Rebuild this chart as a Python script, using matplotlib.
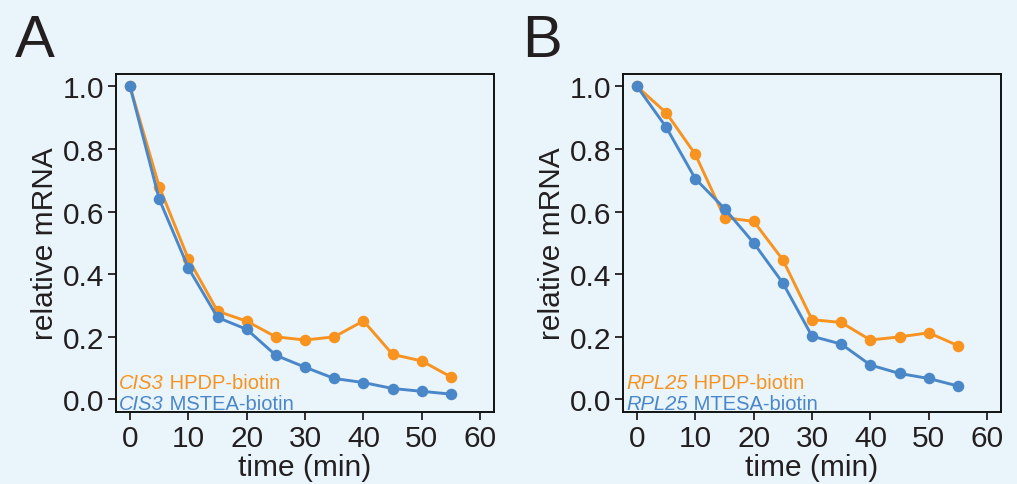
import matplotlib
matplotlib.use("Agg")
import matplotlib.pyplot as plt

plt.rcParams['font.family'] = ['Liberation Sans', 'DejaVu Sans']

time_min = [0, 5, 10, 15, 20, 25, 30, 35, 40, 45, 50, 55]

cis3_hpdp = [1.0, 0.680, 0.449, 0.282, 0.250, 0.200, 0.190, 0.200, 0.251, 0.144, 0.123, 0.072]
cis3_mstea = [1.0, 0.640, 0.420, 0.262, 0.224, 0.141, 0.103, 0.067, 0.054, 0.035, 0.026, 0.017]

rpl25_hpdp = [1.0, 0.916, 0.783, 0.581, 0.569, 0.446, 0.255, 0.246, 0.190, 0.200, 0.213, 0.172]
rpl25_mtesa = [1.0, 0.870, 0.705, 0.610, 0.500, 0.372, 0.202, 0.177, 0.110, 0.083, 0.067, 0.043]

x_ticks = [0, 10, 20, 30, 40, 50, 60]
y_ticks = [0.0, 0.2, 0.4, 0.6, 0.8, 1.0]

ORANGE = '#f7931e'
BLUE = '#4a87c9'
BG = '#eaf4fb'
INK = '#231f20'

fig = plt.figure(figsize=(10.17, 4.85), dpi=100, facecolor=BG)

panels = [
    ("A", 0.1141, "CIS3", cis3_hpdp, " HPDP-biotin", cis3_mstea, " MSTEA-biotin", (15, 57)),
    ("B", 0.6126, "RPL25", rpl25_hpdp, " HPDP-biotin", rpl25_mtesa, " MTESA-biotin", (522, 57)),
]

for letter, left, gene, orange_vals, orange_lbl, blue_vals, blue_lbl, letter_pos in panels:
    ax = fig.add_axes([left, 0.1485, 0.3712, 0.6969])
    ax.set_facecolor(BG)
    ax.plot(time_min, orange_vals, color=ORANGE, lw=2.1, marker='o', ms=8.3,
            markeredgewidth=0, zorder=3)
    ax.plot(time_min, blue_vals, color=BLUE, lw=2.1, marker='o', ms=8.3,
            markeredgewidth=0, zorder=4)
    ax.set_xlim(-2.4, 62.3)
    ax.set_ylim(-0.04, 1.04)
    ax.set_xticks(x_ticks)
    ax.set_yticks(y_ticks)
    ax.set_yticklabels([f"{v:.1f}" for v in y_ticks])
    ax.tick_params(direction='out', length=6, width=1.3, labelsize=21.5,
                   pad=2.5, colors=INK)
    for s in ax.spines.values():
        s.set_linewidth(1.4)
        s.set_color('#111111')
    ax.set_xlabel("time (min)", fontsize=21.5, labelpad=1, color=INK)
    ax.set_ylabel("relative mRNA", fontsize=21.5, labelpad=2.5, color=INK)

    # two-line legend: italic gene name followed by the label in upright text
    for yfrac, color, tail in [(0.058, ORANGE, orange_lbl), (-0.002, BLUE, blue_lbl)]:
        t1 = ax.text(0.008, yfrac, gene, transform=ax.transAxes, fontsize=14.5,
                     style='italic', color=color, ha='left', va='bottom')
        ax.annotate(tail, xy=(1, 0), xycoords=t1, fontsize=14.5, color=color,
                    ha='left', va='bottom')

    fig.text(letter_pos[0] / 1017, 1 - letter_pos[1] / 485, letter,
             fontsize=43, color=INK, ha='left', va='baseline')

fig.savefig("out.png", dpi=100, facecolor=BG)
